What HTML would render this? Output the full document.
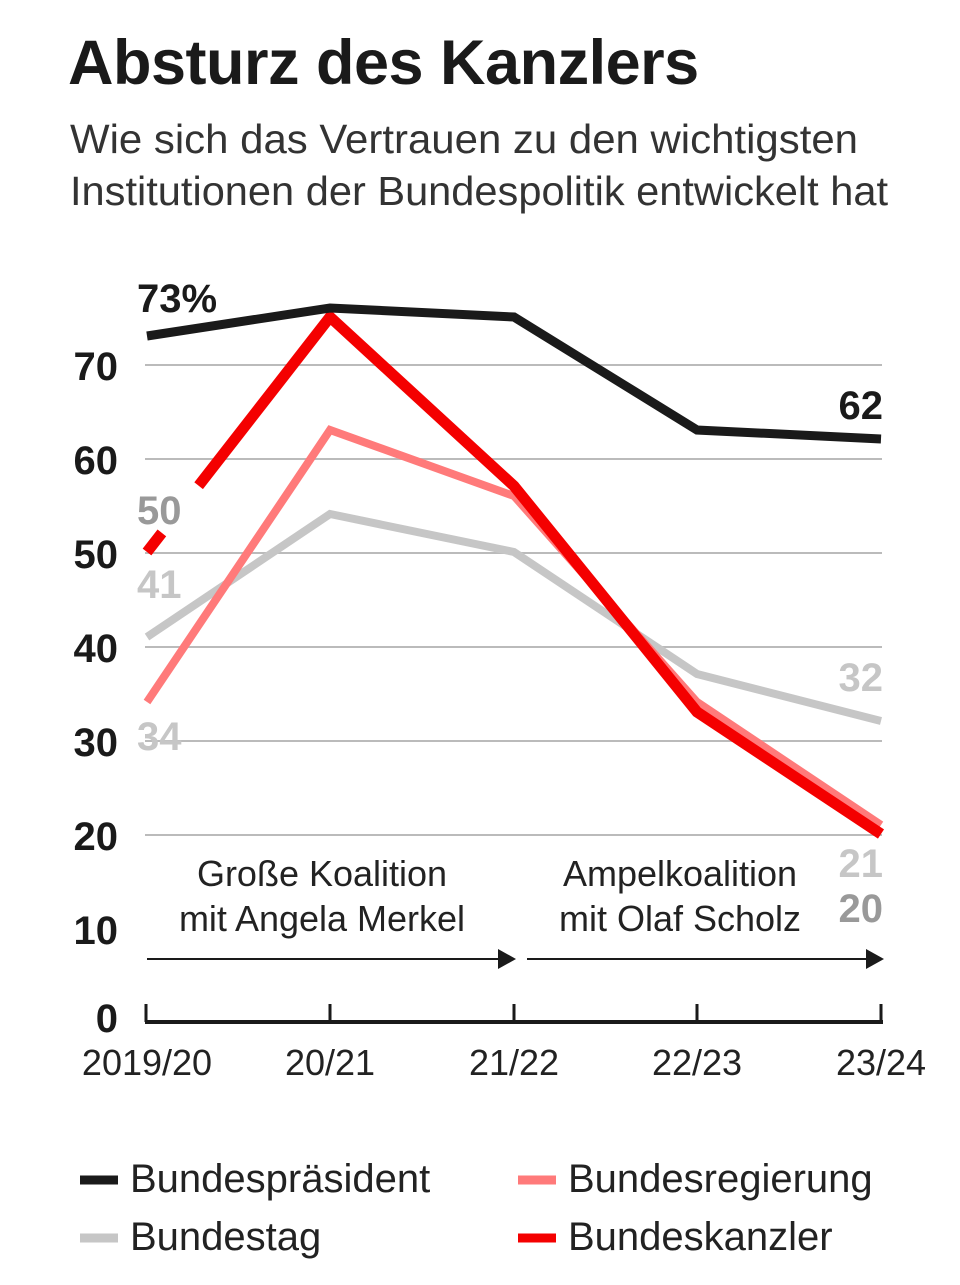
<!DOCTYPE html>
<html><head><meta charset="utf-8"><style>
body{margin:0;background:#fff;width:960px;height:1280px;overflow:hidden;font-family:"Liberation Sans",sans-serif}
</style></head><body>
<svg width="960" height="1280" viewBox="0 0 960 1280" xmlns="http://www.w3.org/2000/svg" font-family="Liberation Sans, sans-serif">
<text x="68" y="84" font-size="63" font-weight="bold" fill="#1a1a1a" letter-spacing="-0.5">Absturz des Kanzlers</text>
<text x="70" y="153" font-size="41" fill="#333" textLength="788" lengthAdjust="spacingAndGlyphs">Wie sich das Vertrauen zu den wichtigsten</text>
<text x="70" y="205" font-size="41" fill="#333" textLength="818" lengthAdjust="spacingAndGlyphs">Institutionen der Bundespolitik entwickelt hat</text>
<g stroke="#bbb" stroke-width="2">
<line x1="145" y1="365" x2="882" y2="365"/><line x1="145" y1="459" x2="882" y2="459"/>
<line x1="145" y1="553" x2="882" y2="553"/><line x1="145" y1="647" x2="882" y2="647"/>
<line x1="145" y1="741" x2="882" y2="741"/><line x1="145" y1="835" x2="882" y2="835"/>
</g>
<g font-size="40" font-weight="bold" fill="#1a1a1a" text-anchor="end">
<text x="118" y="380">70</text><text x="118" y="474">60</text><text x="118" y="568">50</text>
<text x="118" y="662">40</text><text x="118" y="756">30</text><text x="118" y="850">20</text>
<text x="118" y="944">10</text><text x="118" y="1032">0</text>
</g>
<g stroke="#1a1a1a" stroke-width="3" fill="none">
<line x1="145" y1="1022" x2="883" y2="1022" stroke-width="4"/>
<line x1="146" y1="1004" x2="146" y2="1022"/><line x1="330" y1="1004" x2="330" y2="1022"/>
<line x1="514" y1="1004" x2="514" y2="1022"/><line x1="697" y1="1004" x2="697" y2="1022"/>
<line x1="881" y1="1004" x2="881" y2="1022"/>
<line x1="147" y1="959" x2="500" y2="959" stroke-width="2"/>
<line x1="527" y1="959" x2="868" y2="959" stroke-width="2"/>
</g>
<polygon points="498,949 516,959 498,969" fill="#1a1a1a"/>
<polygon points="866,949 884,959 866,969" fill="#1a1a1a"/>
<g font-size="36" fill="#222" text-anchor="middle">
<text x="322" y="886">Große Koalition</text><text x="322" y="931">mit Angela Merkel</text>
<text x="680" y="886">Ampelkoalition</text><text x="680" y="931">mit Olaf Scholz</text>
<text x="147" y="1075">2019/20</text><text x="330" y="1075">20/21</text><text x="514" y="1075">21/22</text>
<text x="697" y="1075">22/23</text><text x="881" y="1075">23/24</text>
</g>
<g fill="none" stroke-linejoin="miter">
<polyline points="147,637 330,514 514,552 697,674 881,721" stroke="#c6c6c6" stroke-width="8"/>
<polyline points="147,702 330,430 514,496 697,702 881,825" stroke="#ff7a7a" stroke-width="8"/>
<polyline points="147,552 330,317 514,486 697,712 881,834" stroke="#f40000" stroke-width="11"/>
<line x1="162" y1="533" x2="199" y2="486" stroke="#fff" stroke-width="14"/>
<polyline points="147,336 330,308 514,317 697,430 881,439" stroke="#1a1a1a" stroke-width="9"/>
</g>
<g font-size="40" font-weight="bold">
<text x="137" y="312" fill="#1a1a1a">73%</text>
<text x="137" y="524" fill="#999">50</text>
<text x="137" y="598" fill="#c6c6c6">41</text>
<text x="137" y="750" fill="#c6c6c6">34</text>
<text x="883" y="419" fill="#1a1a1a" text-anchor="end">62</text>
<text x="883" y="691" fill="#c6c6c6" text-anchor="end">32</text>
<text x="883" y="877" fill="#c6c6c6" text-anchor="end">21</text>
<text x="883" y="922" fill="#999" text-anchor="end">20</text>
</g>
<g stroke-width="9">
<line x1="80" y1="1180" x2="118" y2="1180" stroke="#1a1a1a"/>
<line x1="80" y1="1238" x2="118" y2="1238" stroke="#c6c6c6"/>
<line x1="518" y1="1180" x2="556" y2="1180" stroke="#ff7a7a"/>
<line x1="518" y1="1238" x2="556" y2="1238" stroke="#f40000"/>
</g>
<g font-size="40" fill="#222">
<text x="130" y="1192">Bundespräsident</text><text x="130" y="1250">Bundestag</text>
<text x="568" y="1192">Bundesregierung</text><text x="568" y="1250">Bundeskanzler</text>
</g>
</svg>
</body></html>
